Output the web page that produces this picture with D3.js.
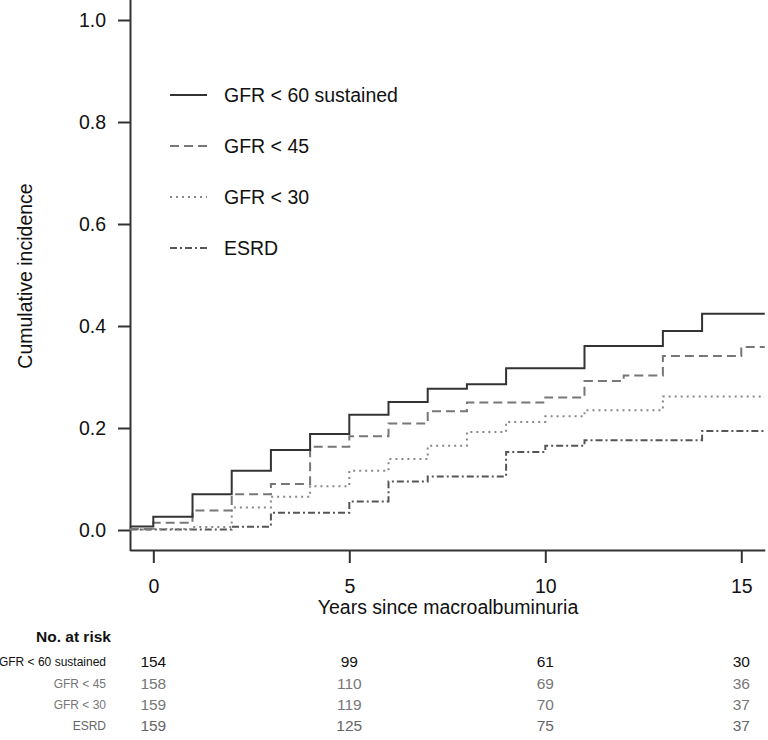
<!DOCTYPE html>
<html>
<head>
<meta charset="utf-8">
<script src="https://cdn.jsdelivr.net/npm/d3@7"></script>
<style>
  body { margin: 0; background: #fff; }
  svg { display: block; font-family: "Liberation Sans", Arial, sans-serif; }
</style>
</head>
<body>
<svg id="chart" width="768" height="740"></svg>
<script>
// interval start times (years); last interval runs to the axis end
const stepTimes = [-0.6, 0, 1, 2, 3, 4, 5, 6, 7, 8, 9, 10, 11, 12, 13, 14, 15]
const endTime = 15.6

const seriesNames = ["GFR < 60 sustained", "GFR < 45", "GFR < 30", "ESRD"]
const gfr60Values = [0.007, 0.026, 0.070, 0.116, 0.157, 0.188, 0.226, 0.251, 0.277, 0.286, 0.317, 0.317, 0.361, 0.361, 0.390, 0.424, 0.424]
const gfr45Values = [0.002, 0.014, 0.038, 0.070, 0.090, 0.163, 0.184, 0.209, 0.233, 0.250, 0.250, 0.260, 0.292, 0.303, 0.341, 0.341, 0.359]
const gfr30Values = [0.001, 0.002, 0.006, 0.044, 0.065, 0.086, 0.116, 0.139, 0.165, 0.192, 0.212, 0.223, 0.235, 0.235, 0.262, 0.262, 0.262]
const esrdValues  = [0.001, 0.001, 0.001, 0.0065, 0.034, 0.034, 0.056, 0.095, 0.105, 0.105, 0.153, 0.165, 0.176, 0.176, 0.176, 0.194, 0.194]

const xTicks = [0, 5, 10, 15]
const yTicks = [0, 0.2, 0.4, 0.6, 0.8, 1.0]

// number at risk
const riskTimes = [0, 5, 10, 15]
const riskCounts = [
  [154, 99, 61, 30],
  [158, 110, 69, 36],
  [159, 119, 70, 37],
  [159, 125, 75, 37],
]

const styles = [
  { stroke: "#333", dash: null, width: 2 },
  { stroke: "#777", dash: "9,5", width: 2 },
  { stroke: "#888", dash: "2,4", width: 2 },
  { stroke: "#555", dash: "7,3,2,3", width: 2 },
]
const tableColors = ["#111", "#777", "#777", "#666"]

const svg = d3.select("#chart")
const fontSize = 19.5

// scales
const x = d3.scaleLinear().domain([-0.6, 15.6]).range([129.8, 764.8])
const y = d3.scaleLinear().domain([-0.04, 1.04]).range([550.4, -0.4])

// y axis
svg.append("g")
    .attr("transform", "translate(130,0)")
    .call(d3.axisLeft(y).tickValues(yTicks).tickFormat(d3.format(".1f")).tickSize(12).tickSizeOuter(0).tickPadding(12))
    .call(g => g.selectAll("text").attr("font-size", fontSize).attr("fill", "#111").attr("font-family", null))
    .call(g => g.selectAll("line, path").attr("stroke", "#333").attr("stroke-width", 2))

// x axis
svg.append("g")
    .attr("transform", "translate(0,550)")
    .call(d3.axisBottom(x).tickValues(xTicks).tickSize(13).tickSizeOuter(0).tickPadding(16))
    .call(g => g.selectAll("text").attr("font-size", fontSize).attr("fill", "#111").attr("font-family", null))
    .call(g => g.selectAll("line, path").attr("stroke", "#333").attr("stroke-width", 2))

// axis titles
svg.append("text")
    .attr("x", 448).attr("y", 614)
    .attr("text-anchor", "middle")
    .attr("font-size", fontSize)
    .attr("fill", "#111")
    .text("Years since macroalbuminuria")

svg.append("text")
    .attr("transform", "translate(32,276) rotate(-90)")
    .attr("text-anchor", "middle")
    .attr("font-size", fontSize)
    .attr("fill", "#111")
    .text("Cumulative incidence")

// step curves
const line = d3.line()
  .x(d => x(d[0]))
  .y(d => y(d[1]))
  .curve(d3.curveStepAfter)

const allValues = [gfr60Values, gfr45Values, gfr30Values, esrdValues]
const seriesPoints = allValues.map(vals => {
  const pts = stepTimes.map((t, i) => [t, vals[i]])
  pts.push([endTime, vals[vals.length - 1]])
  return pts
})

// draw lightest first so the solid line sits on top
svg.append("g")
    .attr("fill", "none")
  .selectAll("path")
  .data(seriesPoints.map((p, i) => ({ p, i })).reverse())
  .join("path")
    .attr("d", d => line(d.p))
    .attr("stroke", d => styles[d.i].stroke)
    .attr("stroke-width", d => styles[d.i].width)
    .attr("stroke-dasharray", d => styles[d.i].dash)

// legend
const legend = svg.append("g")
legend.selectAll("line")
  .data(seriesNames)
  .join("line")
    .attr("x1", 170).attr("x2", 207)
    .attr("y1", (d, i) => 95 + i * 51)
    .attr("y2", (d, i) => 95 + i * 51)
    .attr("stroke", (d, i) => styles[i].stroke)
    .attr("stroke-width", 2)
    .attr("stroke-dasharray", (d, i) => styles[i].dash)
legend.selectAll("text")
  .data(seriesNames)
  .join("text")
    .attr("x", 224)
    .attr("y", (d, i) => 95 + i * 51)
    .attr("dy", "0.35em")
    .attr("font-size", fontSize)
    .attr("fill", "#111")
    .text(d => d)

// number at risk table
svg.append("text")
    .attr("x", 36).attr("y", 637)
    .attr("dy", "0.35em")
    .attr("font-size", 15.5)
    .attr("font-weight", "bold")
    .attr("fill", "#111")
    .text("No. at risk")

const rowY = [662, 684, 705, 726]
const table = svg.append("g")
table.selectAll("text.label")
  .data(seriesNames)
  .join("text")
    .attr("class", "label")
    .attr("x", 106)
    .attr("y", (d, i) => rowY[i])
    .attr("dy", "0.35em")
    .attr("text-anchor", "end")
    .attr("font-size", 12)
    .attr("fill", (d, i) => tableColors[i])
    .text(d => d)

riskCounts.forEach((row, i) => {
  table.append("g")
    .selectAll("text")
    .data(row)
    .join("text")
      .attr("x", (d, j) => x(riskTimes[j]))
      .attr("y", rowY[i])
      .attr("dy", "0.35em")
      .attr("text-anchor", "middle")
      .attr("font-size", 15.5)
      .attr("fill", tableColors[i])
      .text(d => d)
})
</script>
</body>
</html>
